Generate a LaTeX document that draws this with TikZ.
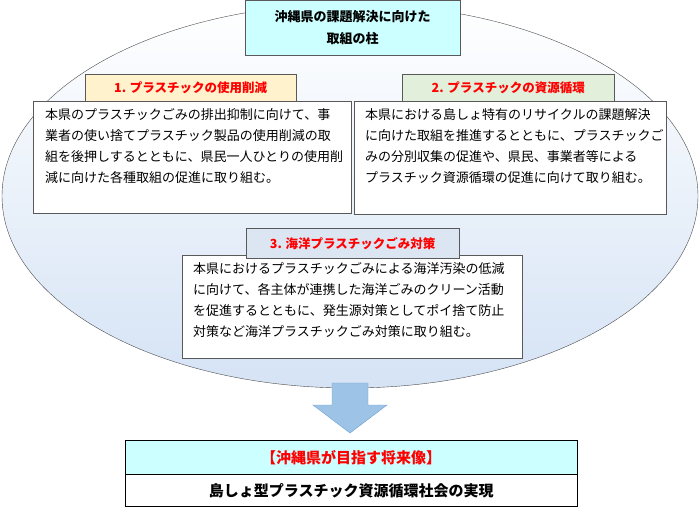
\documentclass[tikz,border=0pt]{standalone}
\usepackage{fontspec}
\newfontfamily\jp{Noto Sans CJK JP}
\usetikzlibrary{shapes.geometric}
\definecolor{titlecyan}{HTML}{CCFFFF}
\definecolor{headyellow}{HTML}{FFF2CC}
\definecolor{headgreen}{HTML}{E2EFDA}
\definecolor{headblue}{HTML}{DCE6F2}
\definecolor{arrowblue}{HTML}{9DC3E6}
\definecolor{arrowline}{HTML}{6F9FD0}
\definecolor{ovalblue}{HTML}{D5E3F5}
\tikzset{
  headbox/.style={draw=gray!70!black, font=\jp\bfseries\fontsize{12.5}{15}\selectfont, text=red, anchor=north west, inner sep=0pt},
  bodybox/.style={draw=gray!70!black, fill=white, anchor=north west, align=left, inner sep=0pt},
  bodytext/.style={anchor=north west, align=left, font=\jp\fontsize{13}{21}\selectfont, inner sep=0pt}
}
\begin{document}
\begin{tikzpicture}[x=1pt,y=-1pt]
        \useasboundingbox (0,0) rectangle (700,506);
        % Oval background
        \shade[top color=white, bottom color=ovalblue, draw=black!70] (350,196) ellipse (348 and 192);

        % Title
        \node[draw=gray!70!black, fill=titlecyan, minimum width=215pt, minimum height=55pt, anchor=north west, align=center, font=\jp\bfseries\fontsize{13}{22}\selectfont, inner sep=0pt] (title) at (245,0) {沖縄県の課題解決に向けた\\取組の柱};

        % Pillar 1
        \node[bodybox, minimum width=318pt, minimum height=112pt] (body1) at (33,101) {};
        \node[bodytext] (text1) at (45,108) {本県のプラスチックごみの排出抑制に向けて、事\\業者の使い捨てプラスチック製品の使用削減の取\\組を後押しするとともに、県民一人ひとりの使用削\\減に向けた各種取組の促進に取り組む。};
        \node[headbox, fill=headyellow, minimum width=211pt, minimum height=27pt] (head1) at (85,74) {1. プラスチックの使用削減};

        % Pillar 2
        \node[bodybox, minimum width=312pt, minimum height=113pt] (body2) at (354,101) {};
        \node[bodytext] (text2) at (365,108) {本県における島しょ特有のリサイクルの課題解決\\に向けた取組を推進するとともに、プラスチックご\\みの分別収集の促進や、県民、事業者等による\\プラスチック資源循環の促進に向けて取り組む。};
        \node[headbox, fill=headgreen, minimum width=212pt, minimum height=27pt] (head2) at (402,74) {2. プラスチックの資源循環};

        % Pillar 3
        \node[bodybox, minimum width=340pt, minimum height=103pt] (body3) at (182,255) {};
        \node[bodytext] (text3) at (193,262) {本県におけるプラスチックごみによる海洋汚染の低減\\に向けて、各主体が連携した海洋ごみのクリーン活動\\を促進するとともに、発生源対策としてポイ捨て防止\\対策など海洋プラスチックごみ対策に取り組む。};
        \node[headbox, fill=headblue, minimum width=213pt, minimum height=30pt] (head3) at (246,228) {3. 海洋プラスチックごみ対策};

        % Arrow
        \draw[fill=arrowblue, draw=arrowline] (332,383) -- (368,383) -- (368,405) -- (387,405) -- (350,433) -- (313,405) -- (332,405) -- cycle;

        % Future vision
        \node[draw=black, fill=titlecyan, minimum width=452pt, minimum height=34pt, anchor=north west, inner sep=0pt, text=red, font=\jp\bfseries\fontsize{15}{18}\selectfont] (goal) at (125,440) {【沖縄県が目指す将来像】};
        \node[draw=black, fill=white, minimum width=452pt, minimum height=32pt, anchor=north, inner sep=0pt, font=\jp\bfseries\fontsize{15}{18}\selectfont] (vision) at (goal.south) {島しょ型プラスチック資源循環社会の実現};
\end{tikzpicture}
\end{document}
